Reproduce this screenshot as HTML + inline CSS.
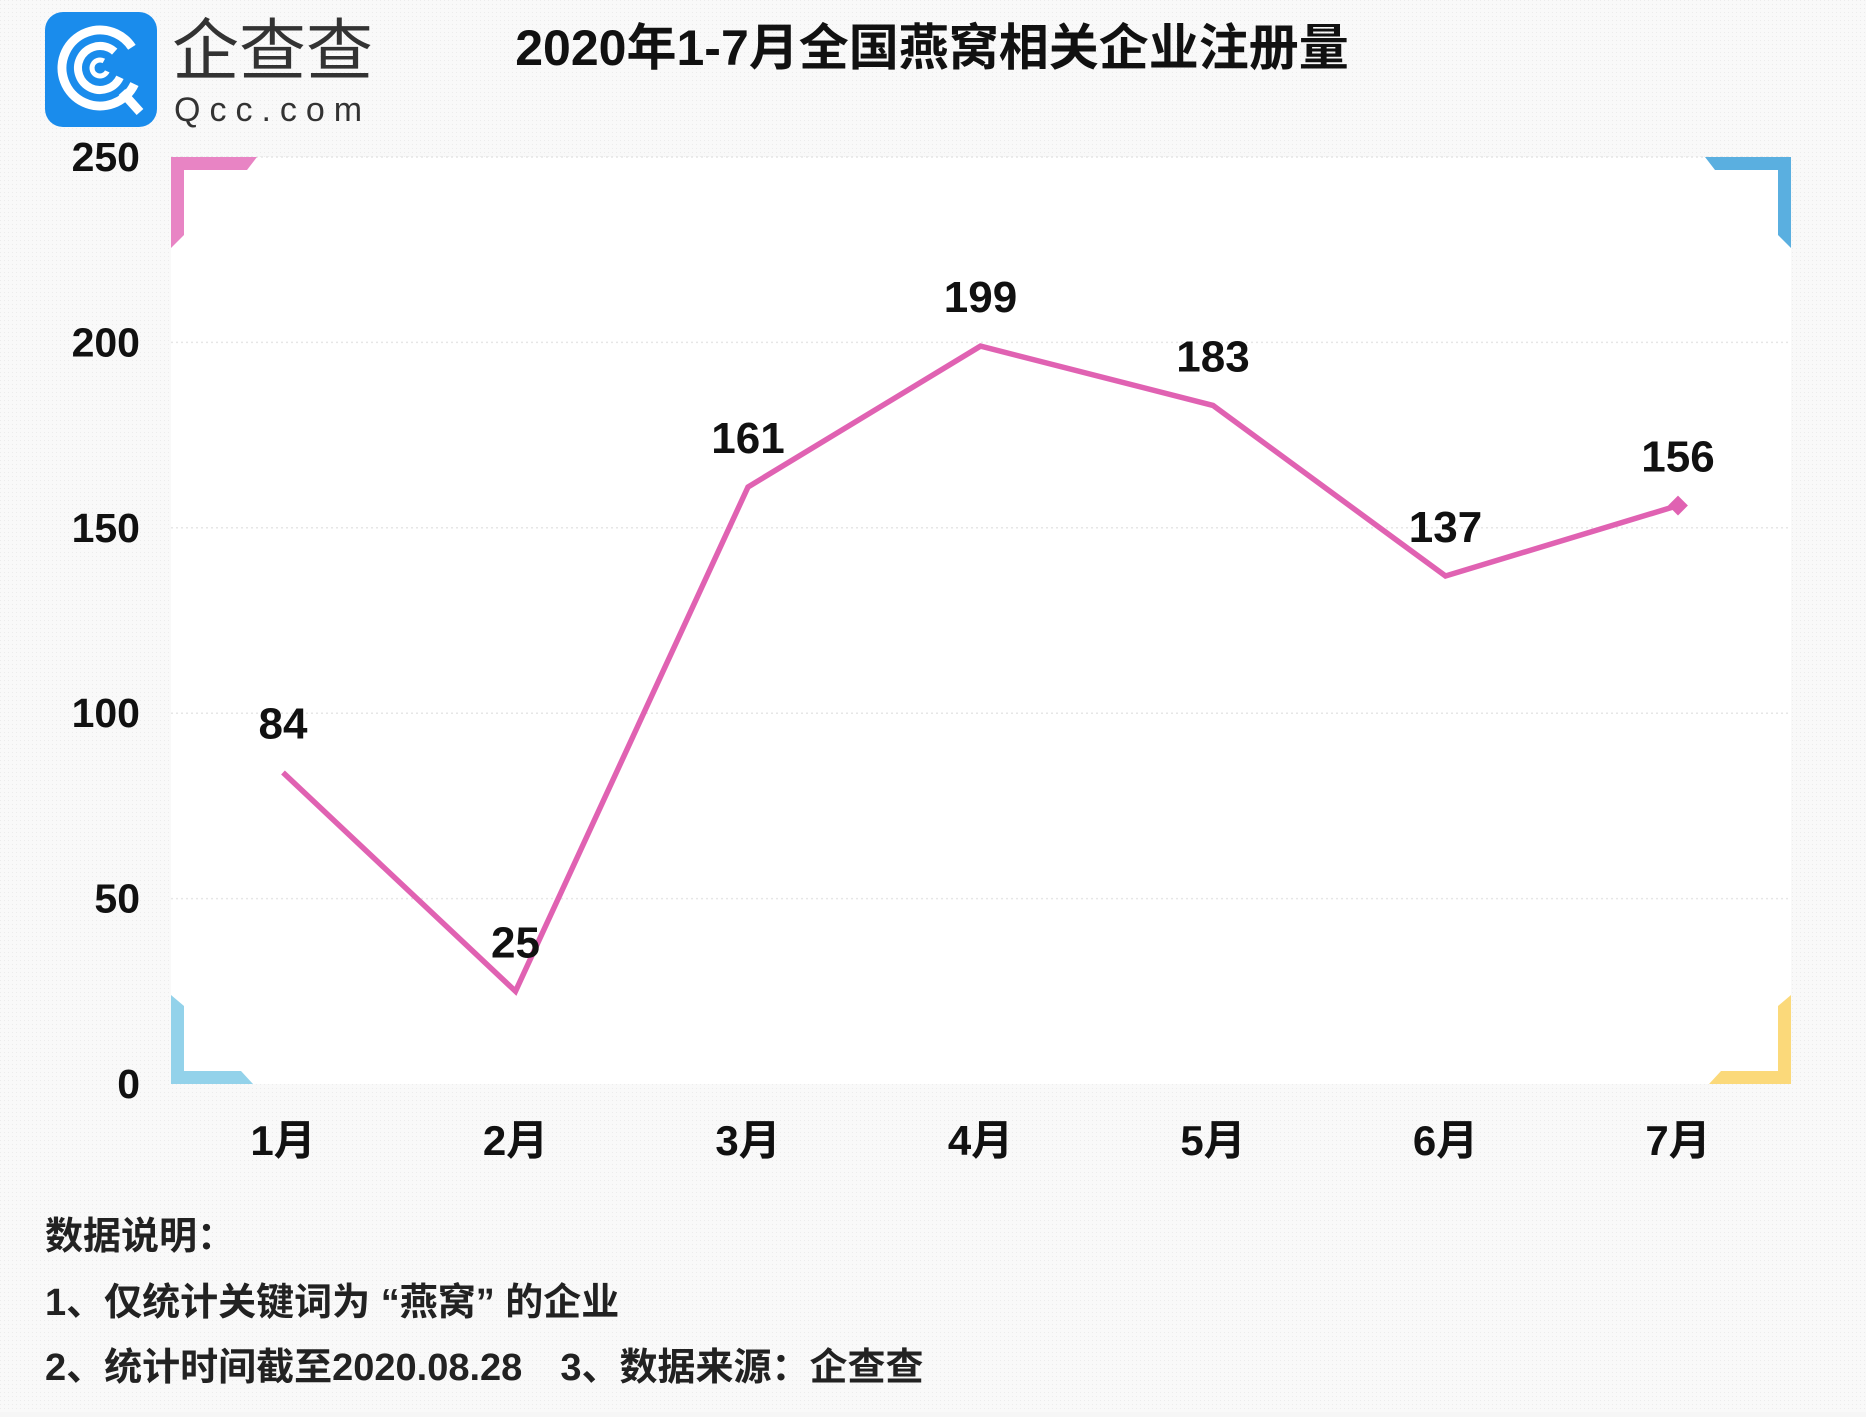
<!DOCTYPE html>
<html><head><meta charset="utf-8">
<style>
html,body{margin:0;padding:0;background:#f6f6f6;}
body{width:1866px;height:1412px;overflow:hidden;font-family:"Liberation Sans","Noto Sans CJK SC",sans-serif;}
</style></head>
<body>
<svg id="chart" width="1866" height="1412" xmlns="http://www.w3.org/2000/svg" style="font-family:'Liberation Sans','Noto Sans CJK SC',sans-serif">
<defs>
<pattern id="dots" width="4" height="4" patternUnits="userSpaceOnUse"><rect width="4" height="4" fill="#f9f9f9"/><rect width="1" height="1" fill="#ececec"/></pattern>
</defs>
<rect width="1866" height="1412" fill="url(#dots)"/>
<g>
<rect x="45" y="12" width="112" height="115" rx="18" fill="#1a8cec"/>
<circle cx="100" cy="68" r="38" fill="none" stroke="#fff" stroke-width="9" stroke-dasharray="200 40" transform="rotate(25 100 68)"/>
<circle cx="100" cy="68" r="22" fill="none" stroke="#fff" stroke-width="8" stroke-dasharray="110 30" transform="rotate(25 100 68)"/>
<circle cx="100" cy="68" r="8" fill="none" stroke="#fff" stroke-width="5" stroke-dasharray="38 12" transform="rotate(25 100 68)"/>
<line x1="122" y1="92" x2="140" y2="112" stroke="#fff" stroke-width="9"/>
<text x="172" y="74" font-size="67" fill="#333">企查查</text>
<text x="174" y="121" font-size="34" fill="#333" letter-spacing="9">Qcc.com</text>
</g>
<text x="932" y="65" font-size="50" font-weight="bold" text-anchor="middle" fill="#111">2020年1-7月全国燕窝相关企业注册量</text>
<rect x="171" y="157" width="1620" height="927" fill="#fff"/>
<g id="grid"></g>
<g>
<polygon points="171,157 257,157 247,170 184,170 184,235 171,248" fill="#e884c4"/>
<polygon points="1791,157 1705,157 1715,170 1778,170 1778,235 1791,248" fill="#5aafe0"/>
<polygon points="171,1084 253,1084 241,1071 184,1071 184,1006 171,995" fill="#93d2ea"/>
<polygon points="1791,1084 1709,1084 1721,1071 1778,1071 1778,1006 1791,995" fill="#fbd97a"/>
</g>
<g id="yaxis"></g>
<g id="xaxis"></g>
<g id="series"></g>
<g font-size="38" font-weight="bold" fill="#222">
<text x="45" y="1249">数据说明：</text>
<text x="45" y="1315">1、仅统计关键词为 “燕窝” 的企业</text>
<text x="45" y="1380">2、统计时间截至2020.08.28　3、数据来源：企查查</text>
</g>
</svg>
<script>
const categories = ["1月","2月","3月","4月","5月","6月","7月"];
const values = [84,25,161,199,183,137,156];
const yTicks = [0,50,100,150,200,250];
const yTickLabels = ["0","50","100","150","200","250"];

const NS="http://www.w3.org/2000/svg";
const plot={left:171,right:1791,top:157,bottom:1084,x0:283,x1:1678,yMax:250};
function xScale(i){return plot.x0+(plot.x1-plot.x0)*i/(categories.length-1);}
function yScale(v){return plot.bottom-(plot.bottom-plot.top)*v/plot.yMax;}
function mk(tag,attrs,parent,txt){const e=document.createElementNS(NS,tag);for(const k in attrs)e.setAttribute(k,attrs[k]);if(txt!==undefined)e.textContent=txt;parent.appendChild(e);return e;}

const grid=document.getElementById('grid'),ya=document.getElementById('yaxis'),xa=document.getElementById('xaxis'),se=document.getElementById('series');
yTicks.forEach((t,i)=>{
  const y=yScale(t);
  if(t>0){const g=mk('line',{x1:plot.left,x2:plot.right,y1:y,y2:y,stroke:'#e6e6e6','stroke-width':1.5,'stroke-dasharray':'2 3'},grid);
  
  }
  const l=mk('text',{x:140,y:y+14,'font-size':41,'font-weight':'bold','text-anchor':'end',fill:'#111'},ya,yTickLabels[i]);
  
  
});
categories.forEach((c,i)=>{
  const l=mk('text',{x:xScale(i),y:1155,'font-size':42,'font-weight':'bold','text-anchor':'middle',fill:'#111'},xa,c);
  
  
});
const pts=values.map((v,i)=>xScale(i)+','+yScale(v)).join(' ');
const line=mk('polyline',{points:pts,fill:'none',stroke:'#e062b2','stroke-width':5.5,'stroke-linejoin':'miter'},se);


const li=values.length-1;
const mkr=mk('rect',{x:xScale(li)-7,y:yScale(values[li])-7,width:14,height:14,fill:'#e062b2',transform:'rotate(45 '+xScale(li)+' '+yScale(values[li])+')'},se);


values.forEach((v,i)=>{
  const l=mk('text',{x:xScale(i),y:yScale(v)-34,'font-size':44,'font-weight':'bold','text-anchor':'middle',fill:'#111'},se,String(v));
  
  
});
</script>
</body></html>
